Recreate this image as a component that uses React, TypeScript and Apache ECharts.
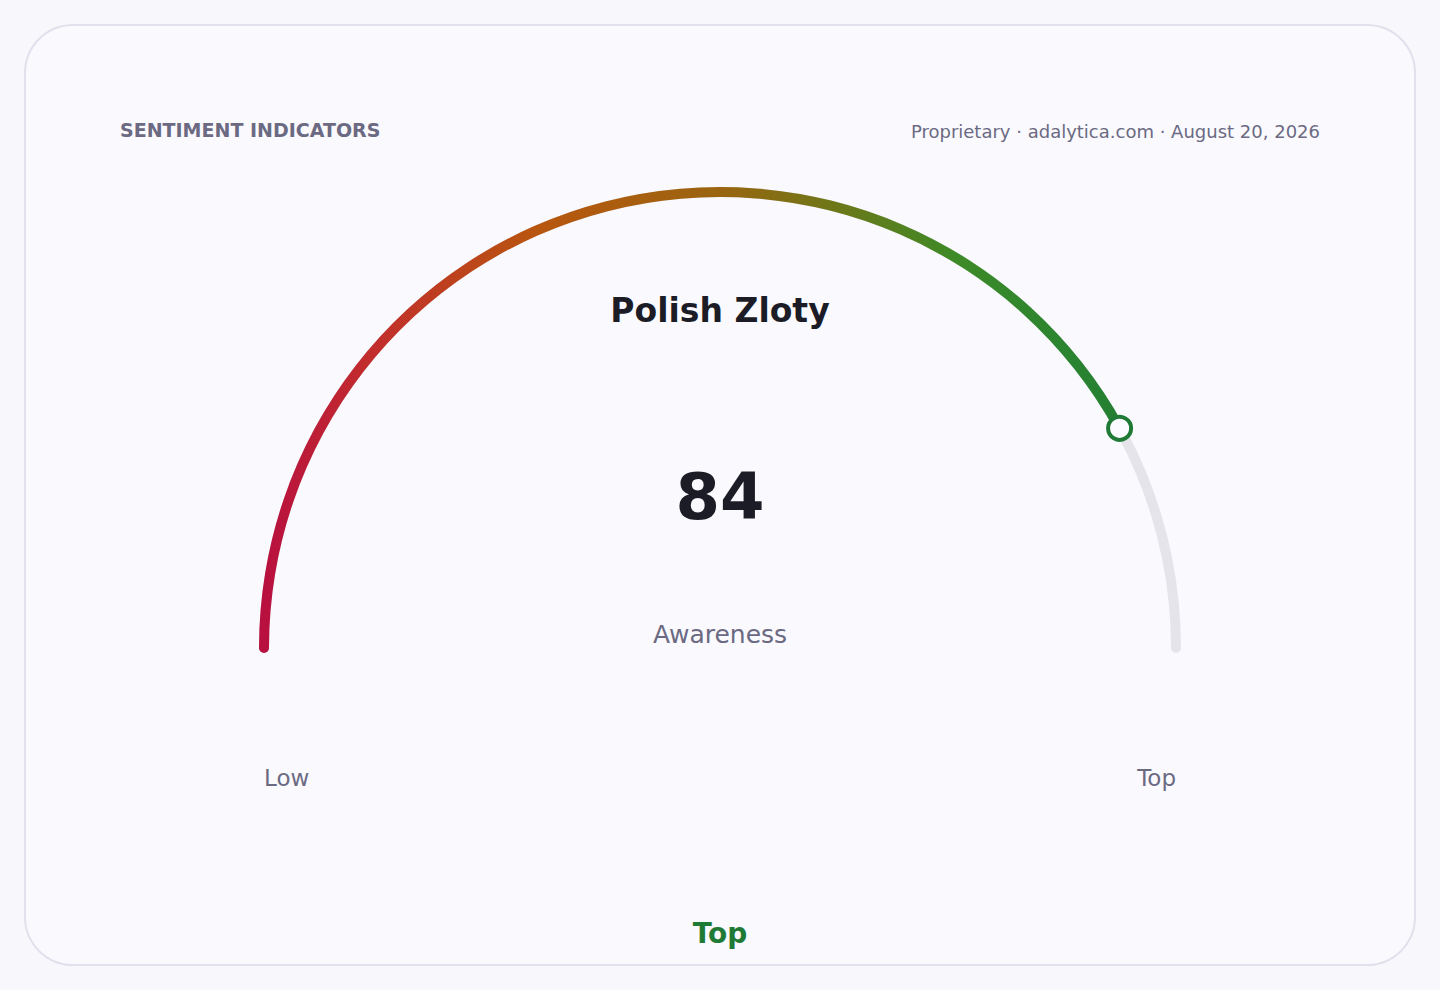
import * as echarts from 'echarts';
import { useEffect, useRef } from 'react';

const gaugeValue = [84];
const gaugeMin = 0;
const gaugeMax = 100;
const metricName = 'Awareness';
const currencyName = 'Polish Zloty';
const rangeLabels = ['Low', 'Top'];
const ratingLabel = 'Top';
const headerLeft = 'SENTIMENT INDICATORS';
const headerRight = 'Proprietary · adalytica.com · August 20, 2026';

const FONT = '"DejaVu Sans", "Noto Sans", sans-serif';
const MUTED = '#6b6a82';
const GREEN = '#1f7a35';

export default function App() {
  const chartRef = useRef<HTMLDivElement>(null);

  useEffect(() => {
    document.body.style.margin = '0';
    if (!chartRef.current) return;
    const chart = echarts.init(chartRef.current, undefined, { renderer: 'svg' });

    const cx = 720;
    const cy = 648;
    const r = 456;
    const w = 10;

    // colour runs left to right across the dial
    const gradient = new echarts.graphic.LinearGradient(
      cx - r,
      0,
      cx + r,
      0,
      [
        { offset: 0, color: '#b8103f' },
        { offset: 0.12, color: '#c22e2c' },
        { offset: 0.3, color: '#b8560f' },
        { offset: 0.5, color: '#9a6510' },
        { offset: 0.63, color: '#6c7819' },
        { offset: 0.76, color: '#3d8a27' },
        { offset: 0.88, color: '#2a8430' },
        { offset: 1, color: GREEN },
      ],
      true,
    );

    chart.setOption({
      animation: false,
      backgroundColor: '#f8f8fc',
      textStyle: { fontFamily: FONT },
      graphic: [
        {
          type: 'rect',
          z: -10,
          shape: { x: 25, y: 25, width: 1390, height: 940, r: 48 },
          style: { fill: '#f9f9fe', stroke: '#e1e0ec', lineWidth: 2 },
        },
        {
          type: 'text',
          x: 120,
          y: 130,
          style: {
            text: headerLeft,
            fill: MUTED,
            font: `bold 19px ${FONT}`,
            verticalAlign: 'middle',
          },
        },
        {
          type: 'text',
          x: 1320,
          y: 131,
          style: {
            text: headerRight,
            fill: MUTED,
            font: `18px ${FONT}`,
            align: 'right',
            verticalAlign: 'middle',
          },
        },
        {
          type: 'text',
          x: cx,
          y: 310,
          style: {
            text: currencyName,
            fill: '#1c1c26',
            font: `bold 33px ${FONT}`,
            align: 'center',
            verticalAlign: 'middle',
          },
        },
        {
          type: 'text',
          x: cx - r,
          y: 778,
          style: {
            text: rangeLabels[0],
            fill: MUTED,
            font: `23px ${FONT}`,
            align: 'left',
            verticalAlign: 'middle',
          },
        },
        {
          type: 'text',
          x: cx + r,
          y: 778,
          style: {
            text: rangeLabels[1],
            fill: MUTED,
            font: `23px ${FONT}`,
            align: 'right',
            verticalAlign: 'middle',
          },
        },
        {
          type: 'text',
          x: cx,
          y: 933,
          style: {
            text: ratingLabel,
            fill: GREEN,
            font: `bold 28px ${FONT}`,
            align: 'center',
            verticalAlign: 'middle',
          },
        },
      ],
      polar: { center: [cx, cy], radius: r },
      angleAxis: {
        type: 'value',
        startAngle: 180,
        min: gaugeMin,
        max: gaugeMax * 2,
        show: false,
      },
      radiusAxis: { type: 'value', min: 0, max: 1, show: false },
      series: [
        {
          type: 'gauge',
          center: [cx, cy],
          radius: r + w / 2,
          startAngle: 180,
          endAngle: 0,
          min: gaugeMin,
          max: gaugeMax,
          progress: { show: true, width: w, roundCap: true, itemStyle: { color: gradient } },
          axisLine: { roundCap: true, lineStyle: { width: w, color: [[1, '#e4e4ea']] } },
          pointer: { show: false },
          anchor: { show: false },
          axisTick: { show: false },
          splitLine: { show: false },
          axisLabel: { show: false },
          title: {
            offsetCenter: [0, 634 - cy],
            color: MUTED,
            fontSize: 25,
            fontFamily: FONT,
          },
          detail: {
            offsetCenter: [0, 497 - cy],
            color: '#1c1c26',
            fontSize: 64,
            fontWeight: 'bold',
            fontFamily: FONT,
            formatter: '{value}',
          },
          data: [{ value: gaugeValue[0], name: metricName }],
          z: 2,
        },
        {
          // end marker sits on the dial at the gauge value
          type: 'scatter',
          coordinateSystem: 'polar',
          data: [[1, gaugeValue[0]]],
          symbol: 'circle',
          symbolSize: 23,
          itemStyle: { color: '#fafaff', borderColor: GREEN, borderWidth: 4, opacity: 1 },
          z: 5,
          silent: true,
        },
      ],
    });

    return () => chart.dispose();
  }, []);

  return <div ref={chartRef} style={{ width: 1440, height: 990 }} />;
}
